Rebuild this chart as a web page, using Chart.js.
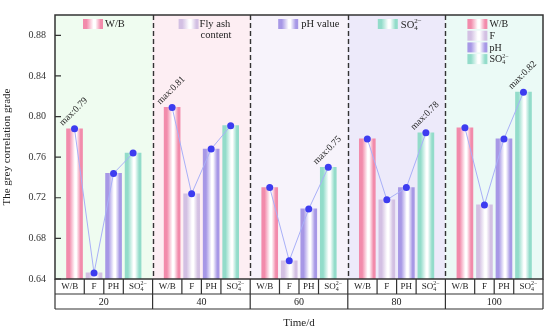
<!DOCTYPE html>
<html>
<head>
<meta charset="utf-8">
<script src="https://cdn.jsdelivr.net/npm/chart.js@4.4.1/dist/chart.umd.min.js"></script>
<style>
  html, body { margin: 0; padding: 0; background: #fff; }
</style>
</head>
<body>
<canvas id="myViz" width="550" height="331"></canvas>
<script>
// data
const groups = ['20', '40', '60', '80', '100'];
const categories = ['W/B', 'F', 'PH', 'SO4'];
const wbValues = [0.788, 0.809, 0.730, 0.778, 0.789];
const flyAshValues = [0.646, 0.724, 0.658, 0.718, 0.713];
const phValues = [0.744, 0.768, 0.709, 0.730, 0.778];
const so4Values = [0.764, 0.791, 0.750, 0.784, 0.824];
const yTicks = [0.64, 0.68, 0.72, 0.76, 0.80, 0.84, 0.88];

const FONT = "'Liberation Serif', 'Times New Roman', serif";
const barColors = ['#f28bab', '#d3c0e3', '#a798e6', '#93dcca'];
const groupBg = ['#effcf0', '#fdeef3', '#f7f3fb', '#edeafa', '#ebfaf6'];
const seriesValues = [wbValues, flyAshValues, phValues, so4Values];

// each group spans 10 units on x, bars sit at 2,4,6,8
const barX = (g, k) => g * 10 + 2 + k * 2;

// horizontal gradient: colour at the edges, white in the middle
const makeGrad = (ctx, x0, x1, color) => {
  const g = ctx.createLinearGradient(x0, 0, x1, 0);
  g.addColorStop(0, color);
  g.addColorStop(0.18, color);
  g.addColorStop(0.52, '#ffffff');
  g.addColorStop(0.62, '#ffffff');
  g.addColorStop(0.88, color);
  g.addColorStop(1, color);
  return g;
};

const barGradient = (color) => (c) => {
  const chart = c.chart;
  if (!chart.chartArea || !c.raw) return color;
  const x = chart.scales.x.getPixelForValue(c.raw.x);
  return makeGrad(chart.ctx, x - 8, x + 8, color);
};

const barSets = categories.map((cat, k) => ({
  type: 'bar',
  label: cat,
  data: groups.map((g, i) => ({ x: barX(i, k), y: seriesValues[k][i] })),
  backgroundColor: barGradient(barColors[k]),
  borderWidth: 0,
  barThickness: 16,
  grouped: false,
  order: 1,
}));

const lineSets = groups.map((g, i) => ({
  type: 'line',
  label: 'line ' + g,
  data: categories.map((cat, k) => ({ x: barX(i, k), y: seriesValues[k][i] })),
  borderColor: '#a9b0f8',
  borderWidth: 1,
  pointRadius: 3.5,
  pointBackgroundColor: '#3d3cf0',
  pointBorderWidth: 0,
  order: 0,
}));

// SO4 with sub/superscript
const drawSO4 = (ctx, x, y, size, align) => {
  ctx.font = size + 'px ' + FONT;
  const wMain = ctx.measureText('SO').width;
  const small = Math.round(size * 0.62);
  ctx.font = small + 'px ' + FONT;
  const wSmall = Math.max(ctx.measureText('2−').width, ctx.measureText('4').width);
  const x0 = align === 'center' ? x - (wMain + wSmall) / 2 : x;
  ctx.textAlign = 'left';
  ctx.textBaseline = 'middle';
  ctx.font = size + 'px ' + FONT;
  ctx.fillText('SO', x0, y);
  ctx.font = small + 'px ' + FONT;
  ctx.fillText('2−', x0 + wMain, y - size * 0.33);
  ctx.fillText('4', x0 + wMain, y + size * 0.3);
};

const decorPlugin = {
  id: 'decor',
  beforeDraw(chart) {
    const { ctx, chartArea: a, scales: { x } } = chart;
    ctx.save();
    groups.forEach((g, i) => {
      const x0 = x.getPixelForValue(i * 10);
      const x1 = x.getPixelForValue(i * 10 + 10);
      ctx.fillStyle = groupBg[i];
      ctx.fillRect(x0, a.top, x1 - x0, a.bottom - a.top);
    });
    ctx.restore();
  },
  afterDraw(chart) {
    const { ctx, chartArea: a, scales: { x, y } } = chart;
    ctx.save();
    ctx.fillStyle = '#222';
    ctx.strokeStyle = '#333';

    // dashed separators
    ctx.lineWidth = 1.4;
    ctx.setLineDash([5, 3]);
    for (let i = 1; i < groups.length; i++) {
      const px = Math.round(x.getPixelForValue(i * 10)) + 0.5;
      ctx.beginPath();
      ctx.moveTo(px, a.top);
      ctx.lineTo(px, a.bottom);
      ctx.stroke();
    }
    ctx.setLineDash([]);

    // table under the plot
    const row1 = a.bottom + 15;
    const row2 = a.bottom + 30;
    ctx.lineWidth = 1.2;
    ctx.beginPath();
    ctx.moveTo(a.left, row1); ctx.lineTo(a.right, row1);
    ctx.moveTo(a.left, row2); ctx.lineTo(a.right, row2);
    for (let i = 1; i < groups.length; i++) {
      const px = x.getPixelForValue(i * 10);
      ctx.moveTo(px, a.bottom); ctx.lineTo(px, row2);
    }
    groups.forEach((g, i) => {
      [3, 5, 7].forEach(off => {
        const px = x.getPixelForValue(i * 10 + off);
        ctx.moveTo(px, a.bottom); ctx.lineTo(px, row1);
      });
    });
    ctx.moveTo(a.left, a.bottom); ctx.lineTo(a.left, row2);
    ctx.moveTo(a.right, a.bottom); ctx.lineTo(a.right, row2);
    ctx.stroke();

    ctx.textAlign = 'center';
    ctx.textBaseline = 'middle';
    groups.forEach((g, i) => {
      const bounds = [0, 3, 5, 7, 10].map(o => x.getPixelForValue(i * 10 + o));
      categories.forEach((cat, k) => {
        const cx = (bounds[k] + bounds[k + 1]) / 2;
        if (cat === 'SO4') {
          drawSO4(ctx, cx, (a.bottom + row1) / 2, 9, 'center');
        } else {
          ctx.font = '9px ' + FONT;
          ctx.textAlign = 'center';
          ctx.fillText(cat, cx, (a.bottom + row1) / 2 + 0.5);
        }
      });
      ctx.font = '10px ' + FONT;
      ctx.textAlign = 'center';
      ctx.fillText(g, (bounds[0] + bounds[4]) / 2, (row1 + row2) / 2 + 0.5);
    });

    ctx.font = '11px ' + FONT;
    ctx.fillText('Time/d', (a.left + a.right) / 2, a.bottom + 44);

    // frame and inward ticks
    ctx.lineWidth = 1.5;
    ctx.strokeRect(a.left, a.top, a.right - a.left, a.bottom - a.top);
    ctx.lineWidth = 1.2;
    ctx.beginPath();
    yTicks.forEach(v => {
      const py = y.getPixelForValue(v);
      ctx.moveTo(a.left, py); ctx.lineTo(a.left + 6, py);
    });
    ctx.stroke();

    // max labels
    ctx.font = '9.5px ' + FONT;
    groups.forEach((g, i) => {
      let best = 0;
      seriesValues.forEach((vals, k) => { if (vals[i] > seriesValues[best][i]) best = k; });
      const v = seriesValues[best][i];
      const px = x.getPixelForValue(barX(i, best));
      const py = y.getPixelForValue(v);
      ctx.save();
      ctx.translate(px - 1, py - 17);
      ctx.rotate(-Math.PI / 4);
      ctx.textAlign = 'center';
      ctx.textBaseline = 'middle';
      ctx.fillText('max:' + v.toFixed(2), 0, 0);
      ctx.restore();
    });

    // legends
    const swatch = (sx, sy, color) => {
      ctx.fillStyle = makeGrad(ctx, sx, sx + 20, color);
      ctx.fillRect(sx, sy, 20, 10);
      ctx.fillStyle = '#222';
    };
    ctx.font = '10.5px ' + FONT;
    ctx.textAlign = 'left';
    ctx.textBaseline = 'middle';
    const gx = i => x.getPixelForValue(i * 10);
    swatch(gx(0) + 28, a.top + 4, barColors[0]);
    ctx.fillText('W/B', gx(0) + 50, a.top + 9.5);
    swatch(gx(1) + 26, a.top + 4, barColors[1]);
    ctx.fillText('Fly ash', gx(1) + 47, a.top + 9.5);
    ctx.fillText('content', gx(1) + 48, a.top + 20.5);
    swatch(gx(2) + 28, a.top + 4, barColors[2]);
    ctx.fillText('pH value', gx(2) + 51, a.top + 9.5);
    swatch(gx(3) + 30, a.top + 4, barColors[3]);
    drawSO4(ctx, gx(3) + 53, a.top + 10, 10.5, 'left');
    const lx = gx(4) + 22;
    const legendRows = ['W/B', 'F', 'pH', 'SO4'];
    legendRows.forEach((t, k) => {
      const ry = a.top + 4 + k * 11.7;
      swatch(lx, ry, barColors[k]);
      ctx.font = '10px ' + FONT;
      if (t === 'SO4') drawSO4(ctx, lx + 22, ry + 5.5, 10, 'left');
      else { ctx.textAlign = 'left'; ctx.fillText(t, lx + 22, ry + 5.5); }
    });

    ctx.restore();
  }
};

const canvasElement = document.getElementById('myViz');
new Chart(canvasElement.getContext('2d'), {
  data: { datasets: [...lineSets, ...barSets] },
  options: {
    responsive: false,
    animation: false,
    layout: { padding: { top: 5, right: 7, bottom: 52, left: 0 } },
    plugins: { legend: { display: false }, tooltip: { enabled: false } },
    scales: {
      x: {
        type: 'linear',
        min: 0,
        max: 50,
        offset: false,
        display: false,
      },
      y: {
        min: 0.64,
        max: 0.90,
        beginAtZero: false,
        border: { display: false },
        grid: { display: false, drawTicks: false },
        afterBuildTicks: (s) => { s.ticks = yTicks.map(v => ({ value: v })); },
        afterFit: (s) => { s.width = 55; },
        ticks: {
          padding: 9,
          color: '#333',
          font: { family: FONT, size: 10 },
          callback: (v) => Number(v).toFixed(2),
        },
        title: {
          display: true,
          text: 'The grey correlation grade',
          color: '#222',
          font: { family: FONT, size: 11 },
          padding: { top: 1, bottom: 0 },
        },
      },
    },
  },
  plugins: [decorPlugin],
});
</script>
</body>
</html>
